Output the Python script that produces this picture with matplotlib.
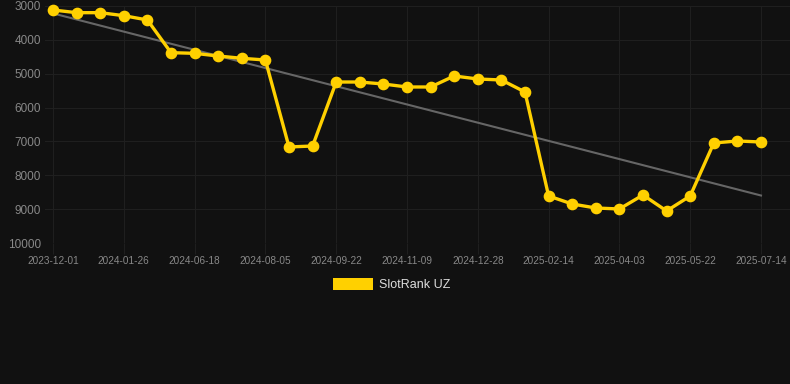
import matplotlib
matplotlib.use("Agg")
import matplotlib.pyplot as plt
import numpy as np
from matplotlib.patches import Rectangle

plt.rcParams['font.family'] = ['Liberation Sans', 'DejaVu Sans']

rank = [3118, 3197, 3197, 3286, 3413, 4378, 4398, 4477, 4545, 4595,
        7164, 7135, 5245, 5245, 5304, 5392, 5392, 5067, 5156, 5185,
        5540, 8611, 8848, 8966, 8995, 8582, 9054, 8611, 7046, 6987, 7017]
tick_labels = ['2023-12-01', '2024-01-26', '2024-06-18', '2024-08-05', '2024-09-22',
               '2024-11-09', '2024-12-28', '2025-02-14', '2025-04-03', '2025-05-22',
               '2025-07-14']
y_ticks = [3000, 4000, 5000, 6000, 7000, 8000, 9000, 10000]
series_name = 'SlotRank UZ'

BG = '#111111'
GOLD = '#FFD000'
GRID = '#1f1f1f'
W, H = 790, 384
fig = plt.figure(figsize=(W / 100, H / 100), dpi=100, facecolor=BG)
ax = fig.add_axes([45 / W, 1 - 243 / H, (W - 45) / W, (243 - 6) / H], facecolor=BG)

x = np.arange(len(rank))
coef = np.polyfit(x, rank, 1)
ax.plot(x, np.polyval(coef, x), color='#666666', lw=1.5, zorder=2)
ax.plot(x, rank, color=GOLD, lw=2.4, marker='o', ms=7.4, zorder=3, clip_on=False)

step = 23.6
ax.set_xlim(-8 / step, 30 + 29 / step)
ax.set_ylim(10000, 3000)
ax.set_yticks(y_ticks)
ax.set_yticklabels([str(v) for v in y_ticks])
ax.set_xticks(x[::3])
ax.set_xticklabels(tick_labels)
ax.grid(True, color=GRID, lw=0.8)
ax.set_axisbelow(True)
for s in ax.spines.values():
    s.set_visible(False)
ax.tick_params(axis='y', length=0, pad=3, labelsize=8.5, labelcolor='#888888')
ax.tick_params(axis='x', length=8, width=0.8, color=GRID, pad=1,
               labelsize=7.2, labelcolor='#888888')

fig.patches.append(Rectangle((333 / W, 1 - 290 / H), 40 / W, 12 / H,
                             transform=fig.transFigure, facecolor=GOLD,
                             edgecolor='none'))
fig.text(379 / W, 1 - 285 / H, series_name, color='#dddddd', fontsize=9,
         va='center', ha='left')

fig.savefig('out.png', dpi=100, facecolor=BG)
